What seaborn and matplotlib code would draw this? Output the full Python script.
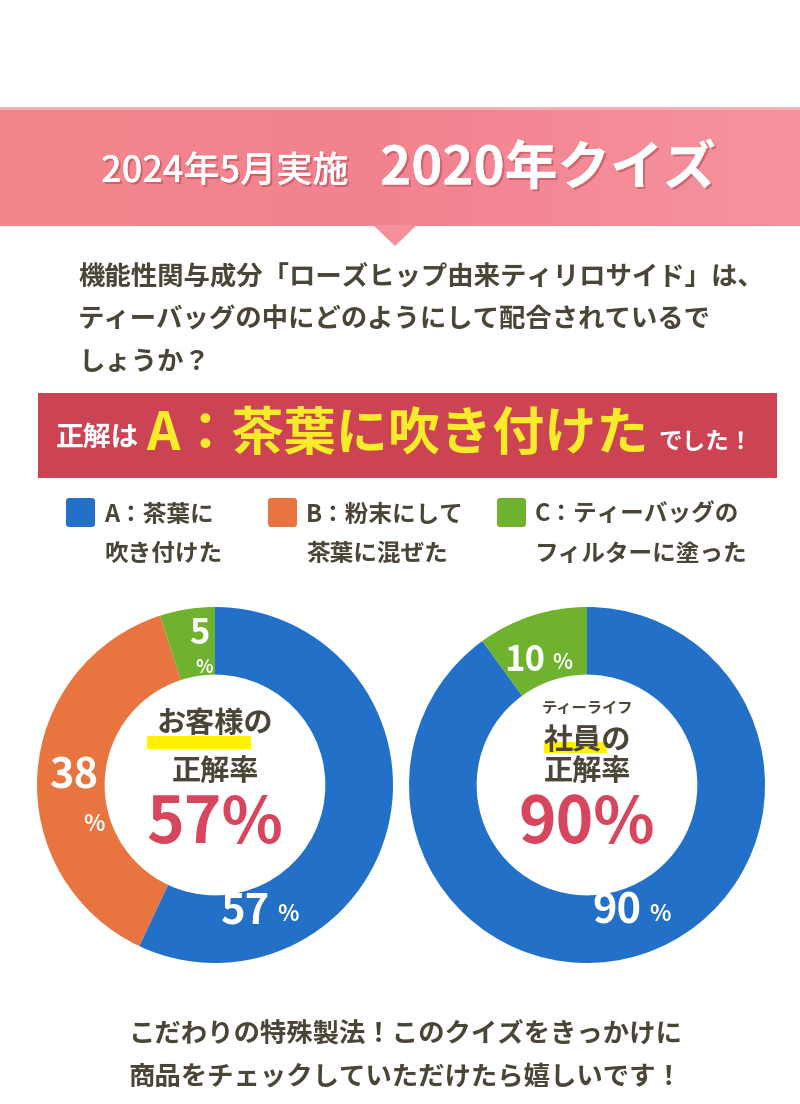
import matplotlib
matplotlib.use('Agg')
import matplotlib.pyplot as plt
import seaborn as sns
import numpy as np
from matplotlib.patches import Rectangle, Polygon, FancyBboxPatch
import matplotlib.patheffects as pe
from matplotlib.colors import to_rgb

# ---------------- data ----------------
categories = ['A：茶葉に\n吹き付けた', 'B：粉末にして\n茶葉に混ぜた', 'C：ティーバッグの\nフィルターに塗った']
customer_pct = [57, 38, 5]
staff_pct = [90, 0, 10]
palette = ['#2370c8', '#e87440', '#6fb22e']

header_small = '2024年5月実施'
header_big = '2020年クイズ'
question_lines = ['機能性関与成分「ローズヒップ由来ティリロサイド」は、',
                  'ティーバッグの中にどのようにして配合されているで',
                  'しょうか？']
answer_pre = '正解は'
answer_main = 'A：茶葉に吹き付けた'
answer_post = 'でした！'
closing_lines = ['こだわりの特殊製法！このクイズをきっかけに',
                 '商品をチェックしていただけたら嬉しいです！']

DARK = '#4a4536'
RED = '#d8465e'
YEL = '#fff100'

sns.set_theme(style='white')
plt.rcParams['font.family'] = ['Noto Sans CJK JP', 'DejaVu Sans']
colors = sns.color_palette(palette)

W, H = 800, 1104
fig = plt.figure(figsize=(W / 100, H / 100), dpi=100)
fig.patch.set_facecolor('white')
bg = fig.add_axes([0, 0, 1, 1])
bg.set_xlim(0, W)
bg.set_ylim(H, 0)
bg.axis('off')

# ---------------- header banner ----------------
stops = [to_rgb('#f5868c'), to_rgb('#f2838f'), to_rgb('#f6939f')]
xs = np.linspace(0, 1, 400)
grad = np.zeros((1, 400, 3))
for c in range(3):
    grad[0, :, c] = np.interp(xs, [0, 0.5, 1], [s[c] for s in stops])
bg.imshow(grad, extent=(0, W, 226, 107), aspect='auto', zorder=0)
bg.add_patch(Rectangle((0, 107), W, 3, color='#f8b0b8', zorder=1, lw=0))
bg.add_patch(Polygon([(373, 225), (417, 225), (395, 246)], closed=True,
                     color='#f4909c', lw=0, zorder=1))
shadow = [pe.withSimplePatchShadow(offset=(1.5, -1.5), shadow_rgbFace='#a83848', alpha=0.45), pe.Normal()]
bg.text(225, 172, header_small, fontsize=26, color='white', ha='center', va='center',
        weight='medium', path_effects=shadow, zorder=3)
bg.text(548, 169, header_big, fontsize=38, color='white', ha='center', va='center',
        weight='bold', path_effects=shadow, zorder=3)
bg.set_xlim(0, W)
bg.set_ylim(H, 0)

# ---------------- question ----------------
for i, line in enumerate(question_lines):
    bg.text(78, 278 + i * 42, line, fontsize=19, weight='bold', color=DARK, va='center')

# ---------------- answer box ----------------
bg.add_patch(Rectangle((38, 393), 739, 85, color='#cc4454', lw=0))
bg.text(56, 438, answer_pre, fontsize=20, weight='bold', color='white', va='center')
bg.text(146, 434, answer_main, fontsize=37.5, weight='bold', color='#f8ec2a', va='center')
bg.text(658, 442, answer_post, fontsize=17, weight='bold', color='white', va='center')

# ---------------- legend ----------------
sq_x = [66, 268, 497]
for cat, col, x in zip(categories, colors, sq_x):
    bg.add_patch(FancyBboxPatch((x, 498), 29, 29, boxstyle='round,pad=0,rounding_size=3',
                                color=col, lw=0))
    l1, l2 = cat.split('\n')
    bg.text(x + 38, 515, l1, fontsize=17, weight='bold', color=DARK, va='center')
    bg.text(x + 38, 554, l2, fontsize=17, weight='bold', color=DARK, va='center')

# ---------------- donuts ----------------
R = 178


def donut(cx, cy, values):
    ax = fig.add_axes([(cx - R) / W, (H - cy - R) / H, 2 * R / W, 2 * R / H])
    ax.pie(values, colors=colors, startangle=90, counterclock=False, radius=1,
           wedgeprops=dict(width=0.38, linewidth=0))
    ax.set_xlim(-1, 1)
    ax.set_ylim(-1, 1)
    ax.set_aspect('equal')
    ax.axis('off')
    return ax


def pct_label(ax, x, y, num, big, small, dx_pct, dy_pct):
    ax.text(x, y, str(num), fontsize=big, weight='bold', color='white', ha='center', va='center')
    ax.text(x + dx_pct, y + dy_pct, '%', fontsize=small, weight='bold', color='white',
            ha='center', va='center')


# customers
ax1 = donut(215, 785, customer_pct)
pct_label(ax1, -0.09, 0.85, customer_pct[2], 25, 13, 0.03, -0.19)
pct_label(ax1, -0.79, 0.05, customer_pct[1], 30, 16, 0.11, -0.27)
pct_label(ax1, 0.17, -0.71, customer_pct[0], 30, 16, 0.24, -0.02)
ax1.add_patch(Rectangle((-0.38, 0.205), 0.58, 0.07, color=YEL, lw=0, zorder=2))
ax1.text(0, 0.35, 'お客様の', fontsize=21, weight='bold', color=DARK, ha='center', va='center', zorder=3)
ax1.text(0, 0.08, '正解率', fontsize=21, weight='bold', color=DARK, ha='center', va='center', zorder=3)
ax1.text(0, -0.22, f'{customer_pct[0]}%', fontsize=46, weight='bold', color=RED,
         ha='center', va='center', zorder=3)

# staff
ax2 = donut(587, 785, staff_pct)
pct_label(ax2, -0.35, 0.70, staff_pct[2], 25, 15, 0.21, -0.01)
pct_label(ax2, 0.17, -0.71, staff_pct[0], 30, 16, 0.24, -0.02)
ax2.text(0, 0.43, 'ティーライフ', fontsize=11, weight='bold', color=DARK, ha='center', va='center', zorder=3)
ax2.add_patch(Rectangle((-0.24, 0.18), 0.35, 0.06, color=YEL, lw=0, zorder=2))
ax2.text(0, 0.25, '社員の', fontsize=21, weight='bold', color=DARK, ha='center', va='center', zorder=3)
ax2.text(0, 0.08, '正解率', fontsize=21, weight='bold', color=DARK, ha='center', va='center', zorder=3)
ax2.text(0, -0.22, f'{staff_pct[0]}%', fontsize=46, weight='bold', color=RED,
         ha='center', va='center', zorder=3)

# ---------------- closing text ----------------
for i, line in enumerate(closing_lines):
    bg.text(405, 1035 + i * 43, line, fontsize=19, weight='bold', color=DARK, ha='center', va='center')

fig.savefig('out.png', dpi=100)
